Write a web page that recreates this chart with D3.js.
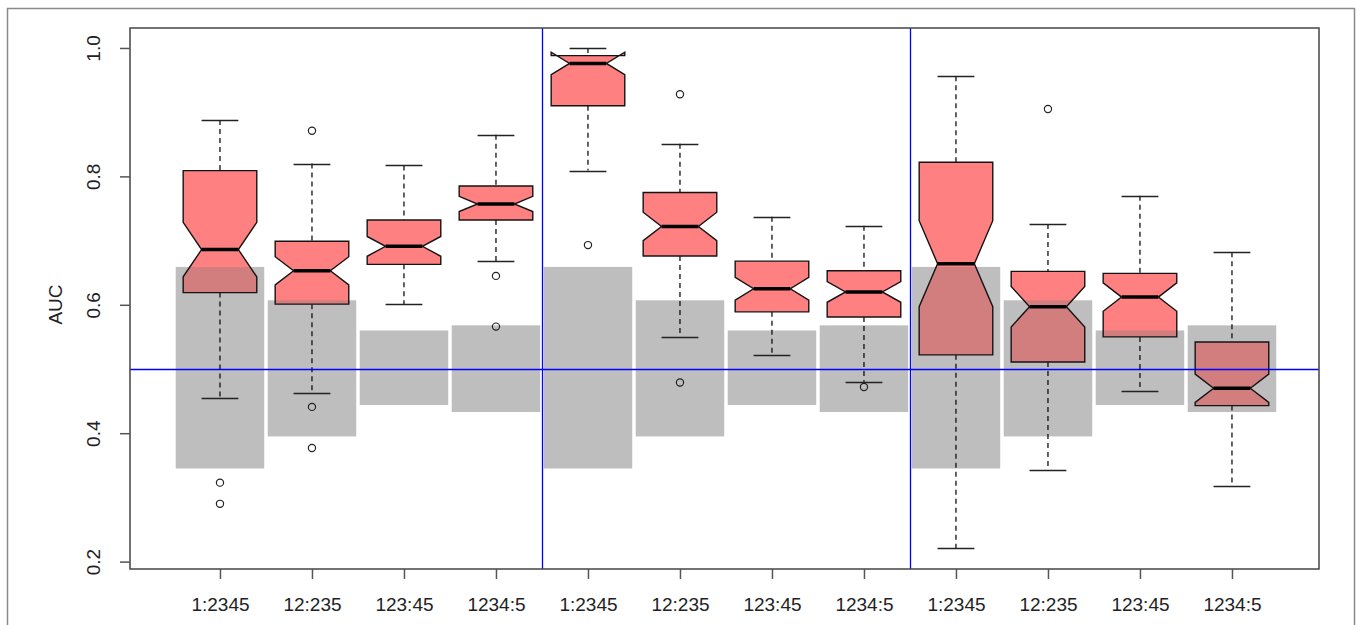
<!DOCTYPE html>
<html>
<head>
<meta charset="utf-8">
<script src="https://cdn.jsdelivr.net/npm/d3@7"></script>
<style>
  html, body { margin: 0; padding: 0; background: #fff; }
  svg { display: block; }
  text { font-family: "Liberation Sans", Arial, sans-serif; fill: #222; }
</style>
</head>
<body>
<svg id="chart" width="1360" height="625"></svg>
<script>
// Split labels, one per box (three groups of four)
const splitLabels = ["1:2345", "12:235", "123:45", "1234:5",
                     "1:2345", "12:235", "123:45", "1234:5",
                     "1:2345", "12:235", "123:45", "1234:5"];

// Five-number summaries of AUC per box
const whiskerHigh = [0.888, 0.820, 0.817, 0.865, 1.000, 0.851, 0.737, 0.723, 0.956, 0.726, 0.770, 0.682];
const upperHinge  = [0.809, 0.699, 0.732, 0.785, 0.988, 0.775, 0.668, 0.653, 0.822, 0.652, 0.649, 0.542];
const medians     = [0.686, 0.653, 0.691, 0.757, 0.976, 0.722, 0.625, 0.620, 0.664, 0.597, 0.612, 0.470];
const lowerHinge  = [0.619, 0.601, 0.663, 0.732, 0.910, 0.676, 0.589, 0.581, 0.522, 0.511, 0.550, 0.443];
const whiskerLow  = [0.455, 0.462, 0.601, 0.668, 0.809, 0.550, 0.522, 0.480, 0.221, 0.342, 0.465, 0.317];
const outliers    = [[0.323, 0.290], [0.871, 0.441, 0.377], [], [0.645, 0.566],
                     [0.693], [0.928, 0.479], [], [0.472],
                     [], [0.905], [], []];

// Samples per box (sets the notch size: median +/- 1.58 IQR / sqrt(n))
const sampleSize = 50;

// Chance-level AUC band for each split type (repeated in every group)
const bandLow  = [0.345, 0.395, 0.444, 0.433];
const bandHigh = [0.659, 0.607, 0.560, 0.568];

// Reference lines
const chanceAUC = 0.5;
const groupBreaks = [4.5, 8.5];
const yTicks = [0.2, 0.4, 0.6, 0.8, 1.0];

const svg = d3.select("#chart");
const plot = { left: 130, right: 1319, top: 28, bottom: 569 };

const x = d3.scaleLinear().domain([0.022, 12.946]).range([plot.left, plot.right]);
const y = d3.scaleLinear().domain([0.1885, 1.0311]).range([plot.bottom, plot.top]);

const boxHalf = 0.4;     // half box width, in category units
const bandHalf = 0.481;  // half band width
const blue = "rgb(0,0,255)";

// outer figure frame
svg.append("rect")
  .attr("x", 7.5).attr("y", 8.5).attr("width", 1347).attr("height", 640)
  .attr("fill", "none").attr("stroke", "#8a8a8a").attr("stroke-width", 1.5);

const defs = svg.append("defs");

// chance bands
const bands = splitLabels.map((_, i) => ({
  pos: i + 1, lo: bandLow[i % 4], hi: bandHigh[i % 4]
}));
bands.forEach((b, i) => {
  defs.append("clipPath").attr("id", "band" + i)
    .append("rect")
    .attr("x", x(b.pos - bandHalf)).attr("y", y(b.hi))
    .attr("width", x(b.pos + bandHalf) - x(b.pos - bandHalf))
    .attr("height", y(b.lo) - y(b.hi));
});
svg.append("g").selectAll("rect").data(bands).join("rect")
  .attr("x", d => x(d.pos - bandHalf)).attr("y", d => y(d.hi))
  .attr("width", d => x(d.pos + bandHalf) - x(d.pos - bandHalf))
  .attr("height", d => y(d.lo) - y(d.hi))
  .attr("fill", "#bebebe");

// boxes
const boxes = splitLabels.map((label, i) => {
  const iqr = upperHinge[i] - lowerHinge[i];
  const notch = 1.58 * iqr / Math.sqrt(sampleSize);
  return {
    pos: i + 1, label,
    hi: whiskerHigh[i], q3: upperHinge[i], med: medians[i], q1: lowerHinge[i], lo: whiskerLow[i],
    confLo: medians[i] - notch, confHi: medians[i] + notch,
    out: outliers[i]
  };
});

function notchPath(d) {
  const w = boxHalf, nw = boxHalf / 2, c = d.pos;
  const pts = [
    [c - w, d.q1], [c + w, d.q1], [c + w, d.confLo], [c + nw, d.med], [c + w, d.confHi],
    [c + w, d.q3], [c - w, d.q3], [c - w, d.confHi], [c - nw, d.med], [c - w, d.confLo]
  ];
  return "M" + pts.map(p => x(p[0]) + "," + y(p[1])).join("L") + "Z";
}

const gBox = svg.append("g");
boxes.forEach((d, i) => {
  const g = gBox.append("g");
  // whiskers (dashed) and staples
  g.append("line").attr("x1", x(d.pos)).attr("x2", x(d.pos))
    .attr("y1", y(d.hi)).attr("y2", y(d.q3))
    .attr("stroke", "#111").attr("stroke-width", 1.3).attr("stroke-dasharray", "5,4");
  g.append("line").attr("x1", x(d.pos)).attr("x2", x(d.pos))
    .attr("y1", y(d.q1)).attr("y2", y(d.lo))
    .attr("stroke", "#111").attr("stroke-width", 1.3).attr("stroke-dasharray", "5,4");
  [d.hi, d.lo].forEach(v => {
    g.append("line")
      .attr("x1", x(d.pos - boxHalf / 2)).attr("x2", x(d.pos + boxHalf / 2))
      .attr("y1", Math.round(y(v)) + 0.5).attr("y2", Math.round(y(v)) + 0.5)
      .attr("stroke", "#222").attr("stroke-width", 1.4);
  });
  // notched box body
  g.append("path").attr("d", notchPath(d)).attr("fill", "#ff8080");
  g.append("path").attr("d", notchPath(d)).attr("fill", "#d27e7e")
    .attr("clip-path", "url(#band" + i + ")");
  g.append("path").attr("d", notchPath(d)).attr("fill", "none")
    .attr("stroke", "#141414").attr("stroke-width", 1.4).attr("stroke-linejoin", "miter");
  // median
  g.append("line")
    .attr("x1", x(d.pos - boxHalf / 2)).attr("x2", x(d.pos + boxHalf / 2))
    .attr("y1", y(d.med)).attr("y2", y(d.med))
    .attr("stroke", "#000").attr("stroke-width", 3.5);
  // outliers
  g.selectAll("circle").data(d.out).join("circle")
    .attr("cx", x(d.pos)).attr("cy", v => y(v)).attr("r", 3.6)
    .attr("fill", "none").attr("stroke", "#222").attr("stroke-width", 1.2);
});

// reference lines: chance level and group separators
const refLines = svg.append("g").attr("class", "ref-lines");
refLines.append("line")
  .attr("x1", plot.left).attr("x2", plot.right)
  .attr("y1", Math.round(y(chanceAUC)) + 0.5).attr("y2", Math.round(y(chanceAUC)) + 0.5)
  .style("stroke", blue).style("stroke-width", "1.3px");
refLines.selectAll("line.sep").data(groupBreaks).join("line")
  .attr("class", "sep")
  .attr("x1", d => Math.round(x(d)) + 0.5).attr("x2", d => Math.round(x(d)) + 0.5)
  .attr("y1", plot.top).attr("y2", plot.bottom)
  .style("stroke", blue).style("stroke-width", "1.3px");

// plot frame
svg.append("rect")
  .attr("x", plot.left).attr("y", plot.top)
  .attr("width", plot.right - plot.left).attr("height", plot.bottom - plot.top)
  .attr("fill", "none").attr("stroke", "#444").attr("stroke-width", 1.5);

// x axis
const xAxis = d3.axisBottom(x)
  .tickValues(boxes.map(d => d.pos))
  .tickFormat((d, i) => splitLabels[i])
  .tickSize(10).tickPadding(19);
const gx = svg.append("g").attr("transform", `translate(0,${plot.bottom})`).call(xAxis);
gx.select(".domain").remove();
gx.selectAll(".tick line").attr("stroke", "#555").attr("stroke-width", 1.5);
gx.selectAll(".tick text").attr("font-size", 19).attr("fill", "#1e1e1e")
  .style("font-family", "'Liberation Sans', Arial, sans-serif");

// y axis, labels rotated parallel to the axis
const yAxis = d3.axisLeft(y).tickValues(yTicks).tickFormat(d3.format(".1f")).tickSize(10);
const gy = svg.append("g").attr("transform", `translate(${plot.left},0)`).call(yAxis);
gy.select(".domain").remove();
gy.selectAll(".tick line").attr("stroke", "#555").attr("stroke-width", 1.5);
gy.selectAll(".tick text")
  .attr("font-size", 19).attr("fill", "#1e1e1e")
  .style("font-family", "'Liberation Sans', Arial, sans-serif")
  .attr("x", null).attr("dy", null)
  .attr("text-anchor", "middle")
  .attr("transform", "translate(-30,0) rotate(-90)");

// y axis title
svg.append("text")
  .attr("transform", `translate(62,${(plot.top + plot.bottom) / 2 + 6}) rotate(-90)`)
  .attr("text-anchor", "middle")
  .attr("font-size", 19)
  .text("AUC");
</script>
</body>
</html>
